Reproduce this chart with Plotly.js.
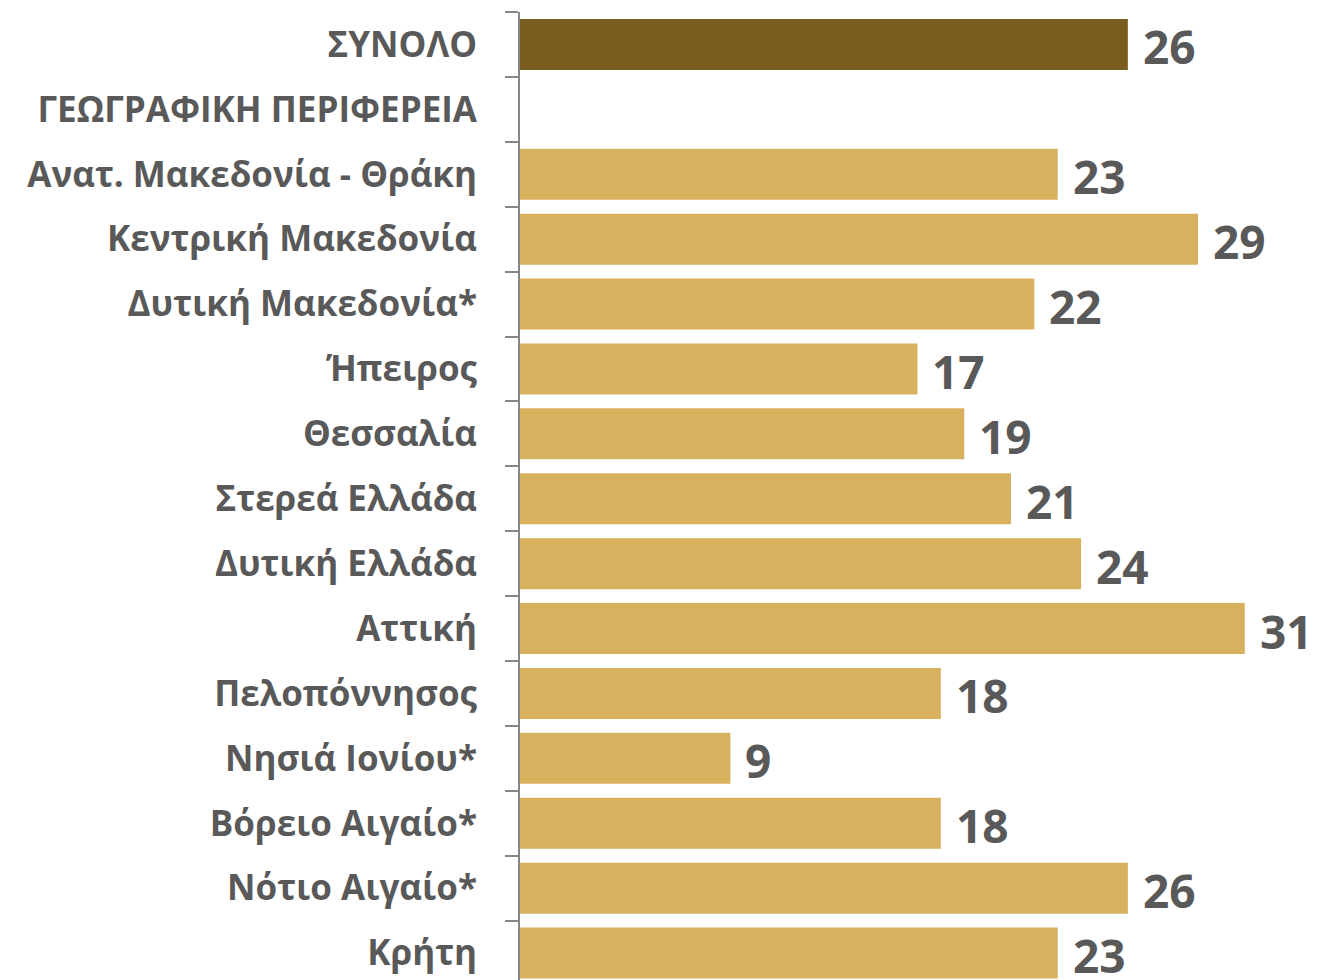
<!DOCTYPE html>
<html>
<head>
<meta charset="utf-8">
<script src="https://cdn.plot.ly/plotly-3.0.1.min.js"></script>
<style>html,body{margin:0;padding:0;background:#fff;}#chart{width:1317px;height:980px;}</style>
</head>
<body>
<div id="chart"></div>
<script>
const categories = [
  "ΣΥΝΟΛΟ",
  "ΓΕΩΓΡΑΦΙΚΗ ΠΕΡΙΦΕΡΕΙΑ",
  "Ανατ. Μακεδονία - Θράκη",
  "Κεντρική Μακεδονία",
  "Δυτική Μακεδονία*",
  "Ήπειρος",
  "Θεσσαλία",
  "Στερεά Ελλάδα",
  "Δυτική Ελλάδα",
  "Αττική",
  "Πελοπόννησος",
  "Νησιά Ιονίου*",
  "Βόρειο Αιγαίο*",
  "Νότιο Αιγαίο*",
  "Κρήτη"
];
const values = [26, null, 23, 29, 22, 17, 19, 21, 24, 31, 18, 9, 18, 26, 23];

const totalColor = "#7B5C1F";
const regionColor = "#D8B15F";
const textColor = "#595959";
const fontFam = "'Open Sans', 'Noto Sans', sans-serif";

const barColors = categories.map((c, i) => i === 0 ? totalColor : regionColor);

const trace = {
  type: "bar",
  orientation: "h",
  x: values,
  y: categories,
  marker: { color: barColors, line: { width: 0 } },
  hoverinfo: "none"
};

const annotations = [];
categories.forEach((c, i) => {
  if (values[i] === null) return;
  annotations.push({
    x: values[i], y: c, xref: "x", yref: "y",
    text: String(values[i]),
    showarrow: false, xanchor: "left", yanchor: "middle",
    xshift: 13, yshift: -2,
    font: { family: fontFam, size: 46, color: textColor, weight: "bold" }
  });
});

const layout = {
  width: 1317, height: 980,
  margin: { l: 520, r: 0, t: 12, b: 0, pad: 0 },
  paper_bgcolor: "#ffffff", plot_bgcolor: "#ffffff",
  showlegend: false,
  bargap: 0.214,
  xaxis: {
    range: [0, 34.09], visible: false, showgrid: false, zeroline: false, fixedrange: true
  },
  yaxis: {
    type: "category",
    categoryorder: "array", categoryarray: categories,
    range: [14.415, -0.5],
    showgrid: false, zeroline: false,
    showline: true, linecolor: "#868686", linewidth: 2,
    ticks: "outside", tickson: "boundaries", ticklen: 13, tickwidth: 2, tickcolor: "#868686",
    ticklabelstandoff: 34,
    tickfont: { family: fontFam, size: 35, color: textColor, weight: "bold" },
    fixedrange: true
  },
  annotations: annotations
};

Plotly.newPlot("chart", [trace], layout, { staticPlot: true, displayModeBar: false });
</script>
</body>
</html>
